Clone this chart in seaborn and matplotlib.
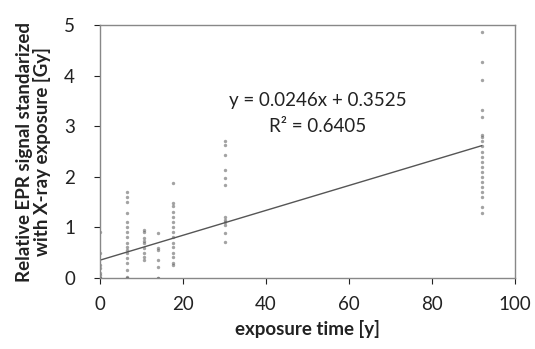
import matplotlib
matplotlib.use("Agg")
import matplotlib.pyplot as plt
import seaborn as sns
import pandas as pd
import numpy as np

# --- data ---
x0 = [0.0] * 11
y0 = [0, 0, 0, 0, 0, 0.05, 0.1, 0.2, 0.26, 0.5, 0.9]
x7 = [6.5] * 18
y7 = [0, 0, 0.02, 0.16, 0.3, 0.39, 0.49, 0.55, 0.61, 0.7, 0.81, 0.9, 1.0, 1.1, 1.28, 1.5, 1.6, 1.7]
x10 = [10.5] * 9
y10 = [0.35, 0.41, 0.5, 0.6, 0.69, 0.73, 0.8, 0.9, 0.95]
x14 = [14.0] * 7
y14 = [0, 0, 0.22, 0.36, 0.55, 0.59, 0.89]
x18 = [17.5] * 15
y18 = [0.25, 0.3, 0.41, 0.5, 0.61, 0.7, 0.81, 0.9, 1.0, 1.1, 1.2, 1.3, 1.43, 1.48, 1.88]
x30 = [30.0] * 12
y30 = [0.71, 0.89, 1.05, 1.1, 1.15, 1.2, 1.84, 1.98, 2.13, 2.43, 2.63, 2.7]
x92 = [92.0] * 21
y92 = [1.28, 1.40, 1.6, 1.7, 1.8, 1.9, 2.0, 2.1, 2.2, 2.3, 2.4, 2.5, 2.6, 2.7, 2.79,
       2.83, 3.18, 3.32, 3.91, 4.27, 4.86]

slope = 0.0246
intercept = 0.3525
r2 = 0.6405
fit_x = [0, 92]

x_ticks = [0, 20, 40, 60, 80, 100]
y_ticks = [0, 1, 2, 3, 4, 5]

df = pd.DataFrame({
    "x": x0 + x7 + x10 + x14 + x18 + x30 + x92,
    "y": y0 + y7 + y10 + y14 + y18 + y30 + y92,
})
fit = pd.DataFrame({"x": fit_x, "y": [slope * v + intercept for v in fit_x]})

sns.set_style("white")
plt.rcParams["font.family"] = ["Lato", "DejaVu Sans"]

fig = plt.figure(figsize=(5.35, 3.49), dpi=100)
ax = fig.add_axes([100 / 535, 1 - 278 / 349, 415 / 535, 253 / 349])

sns.scatterplot(data=df, x="x", y="y", ax=ax, marker="o", s=6, color="#666666",
                linewidth=0, alpha=0.6, legend=False)
sns.lineplot(data=fit, x="x", y="y", ax=ax, color="#555555", linewidth=1.0, legend=False)

ax.set_xlim(0, 100)
ax.set_ylim(0, 5)
ax.set_xticks(x_ticks)
ax.set_yticks(y_ticks)
ax.tick_params(axis="both", labelsize=13.5, colors="#222222", length=4, width=0.8,
               direction="out", bottom=True, left=True)
ax.tick_params(axis="x", pad=9)
ax.tick_params(axis="y", pad=14)
for s in ax.spines.values():
    s.set_color("#888888")
    s.set_linewidth(1.0)

ax.set_xlabel("exposure time [y]", fontsize=13.5, fontweight="bold", color="#222222", labelpad=5)
ax.set_ylabel("Relative EPR signal standarized\nwith X-ray exposure [Gy]", fontsize=13.5,
              fontweight="bold", color="#222222", labelpad=9, linespacing=1.0)

ax.text(52.5, 3.5, f"y = {slope}x + {intercept}", fontsize=13.5, ha="center", va="center",
        color="#222222")
ax.text(52.5, 3.0, f"R² = {r2}", fontsize=13.5, ha="center", va="center", color="#222222")

fig.savefig("out.png", dpi=100)
